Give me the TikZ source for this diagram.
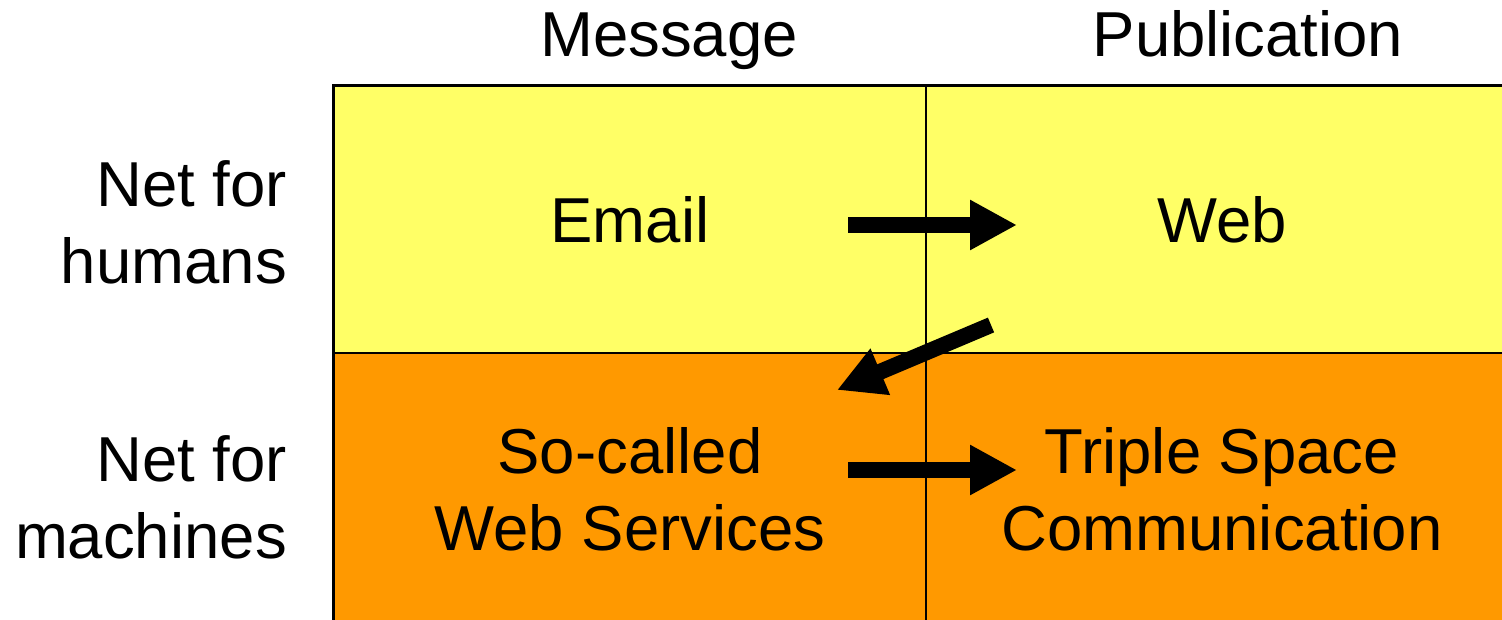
\documentclass[tikz,border=0pt]{standalone}
\usepackage{fontspec}
\setmainfont{Liberation Sans}
\usetikzlibrary{arrows.meta}
\definecolor{cellyellow}{HTML}{FFFF66}
\definecolor{cellorange}{HTML}{FF9900}
\tikzset{
  bigtext/.style={font=\fontsize{63.5}{77}\selectfont, inner sep=0pt},
  cell/.style={bigtext, draw=black, line width=2pt, minimum width=592pt, minimum height=267pt, align=center},
  bigarrow/.style={line width=16pt, -{Triangle[length=47pt,width=47pt]}}
}
\begin{document}
\begin{tikzpicture}[x=1pt,y=-1pt]
\useasboundingbox (0,0) rectangle (1502,619);
\clip (0,0) rectangle (1502,619);
% cells
\node[cell, fill=cellyellow] (email) at (630,219.5) {Email};
\node[cell, fill=cellyellow] (web) at (1222,219.5) {Web};
\node[cell, fill=cellorange, minimum height=272pt] (ws) at (630,489) {So-called\\Web Services};
\node[cell, fill=cellorange, minimum height=272pt] (tsc) at (1222,489) {Triple Space\\Communication};
% outer border
\draw[line width=3pt] (email.south west |- 0,700) -- (email.north west) -- (web.north east);
% headers
\node[bigtext, anchor=base] (msg) at (669,56) {Message};
\node[bigtext, anchor=base] (pub) at (1248,56) {Publication};
% row labels
\node[bigtext, anchor=east, align=right] (hum) at (287,222.5) {Net for\\humans};
\node[bigtext, anchor=east, align=right] (mac) at (287,497.5) {Net for\\machines};
% arrows
\coordinate (a1s) at (848,225);
\coordinate (a1e) at (1017,225);
\coordinate (a2s) at (991,325);
\coordinate (a2e) at (837,390);
\coordinate (a3s) at (848,470);
\coordinate (a3e) at (1017,470);
\draw[bigarrow] (a1s) -- (a1e);
\draw[bigarrow] (a2s) -- (a2e);
\draw[bigarrow] (a3s) -- (a3e);
\end{tikzpicture}
\end{document}
